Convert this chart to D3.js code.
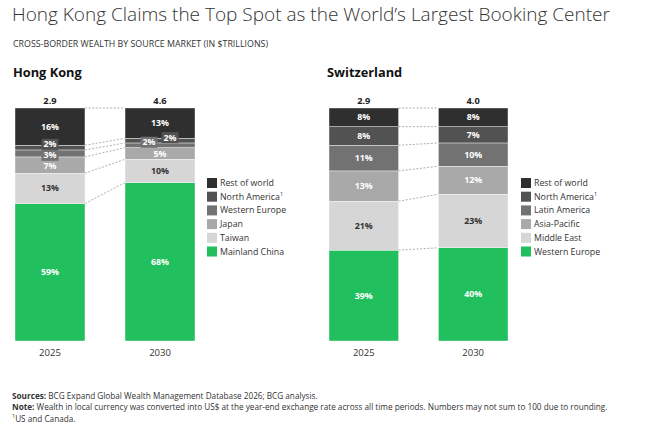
<!DOCTYPE html>
<html><head><meta charset="utf-8">
<script src="https://cdn.jsdelivr.net/npm/d3@7"></script>
<style>
body{margin:0;background:#fff;}
text{font-family:"Open Sans",sans-serif;}
</style></head>
<body><svg id="c" width="646" height="425"></svg>
<script>
// ---- data ----
const years = ["2025", "2030"];
const hkTotals = ["2.9", "4.6"];
const hkCategories = ["Mainland China", "Taiwan", "Japan", "Western Europe", "North America", "Rest of world"];
const hk2025 = [59, 13, 7, 3, 2, 16];
const hk2030 = [68, 10, 5, 2, 2, 13];
const chTotals = ["2.9", "4.0"];
const chCategories = ["Western Europe", "Middle East", "Asia-Pacific", "Latin America", "North America", "Rest of world"];
const ch2025 = [39, 21, 13, 11, 8, 8];
const ch2030 = [40, 23, 12, 10, 7, 8];
const footnoteCategory = "North America";

// ---- styles ----
const palette = ["#21bf5e", "#d6d6d6", "#a9a9a9", "#727272", "#525252", "#2f2f2f"];
const svg = d3.select("#c");

svg.append("text").attr("x", 12).attr("y", 21).attr("font-size", 19).attr("font-weight", 300)
  .attr("fill", "#333").text("Hong Kong Claims the Top Spot as the World\u2019s Largest Booking Center");
svg.append("text").attr("x", 13).attr("y", 47).attr("font-size", 8.85).attr("fill", "#333")
  .text("CROSS-BORDER WEALTH BY SOURCE MARKET (IN $TRILLIONS)");

function panel(opts) {
  const g = svg.append("g");
  g.append("text").attr("x", opts.titleX).attr("y", 77).attr("font-size", 12.8).attr("font-weight", 700)
    .attr("fill", "#111").text(opts.title);

  const x = d3.scaleBand().domain(years).range(opts.xRange).paddingInner(0.364);
  const y = d3.scaleLinear().domain([0, 100]).range([341, 108]);
  const color = d3.scaleOrdinal().domain(opts.categories).range(palette);

  const rows = years.map((yr, i) => {
    const r = { year: yr };
    opts.categories.forEach((c, j) => r[c] = opts.values[i][j]);
    return r;
  });
  const series = d3.stack().keys(opts.categories)(rows);

  // dashed connectors
  const bounds = years.map((yr, i) => [0].concat(series.map(s => s[i][1])));
  const conn = g.append("g");
  bounds[0].forEach((b, k) => {
    if (k === 0) return;
    conn.append("line")
      .attr("x1", x(years[0]) + x.bandwidth()).attr("y1", y(b))
      .attr("x2", x(years[1])).attr("y2", y(bounds[1][k]))
      .attr("stroke", "#9a9a9a").attr("stroke-width", 0.8).attr("stroke-dasharray", "2,1.6");
  });

  // bars
  series.forEach(s => {
    g.selectAll(null).data(s).enter().append("rect")
      .attr("x", d => x(d.data.year)).attr("width", x.bandwidth())
      .attr("y", d => y(d[1])).attr("height", d => y(d[0]) - y(d[1]))
      .attr("fill", color(s.key)).attr("stroke", "#fff").attr("stroke-width", 0.4);
  });

  // segment labels
  years.forEach((yr, i) => {
    const labs = series.map((s, j) => ({
      key: s.key, v: opts.values[i][j], cy: (y(s[i][0]) + y(s[i][1])) / 2, dx: 0, light: j === 1
    }));
    // stagger consecutive tiny segments horizontally
    for (let j = 1; j < labs.length; j++) {
      if (labs[j].v <= 2 && labs[j - 1].v <= 2 && labs[j - 1].dx === 0) {
        labs[j - 1].dx = -11; labs[j].dx = 10; labs[j - 1].cy -= 3; labs[j].cy -= 3; labs[j].stag = true;
      }
    }
    // vertical relaxation
    for (let it = 0; it < 60; it++) {
      for (let j = 1; j < labs.length; j++) {
        if (labs[j].stag) continue;
        const a = labs[j - 1], b = labs[j];
        const gap = a.cy - b.cy;
        if (gap < 11) { const p = (11 - gap) / 2; a.cy += p; b.cy -= p; }
      }
    }
    const cx = x(yr) + x.bandwidth() / 2;
    labs.forEach(l => {
      const lg = g.append("g").attr("transform", `translate(${cx + l.dx},${l.cy})`);
      const t = lg.append("text").attr("text-anchor", "middle").attr("dy", "0.35em")
        .attr("font-size", 8.8).attr("font-weight", 700)
        .attr("fill", l.light ? "#333" : "#fff").text(l.v + "%");
      const w = t.node().getComputedTextLength() + 4;
      lg.insert("rect", "text").attr("x", -w / 2).attr("y", -5.5).attr("width", w).attr("height", 11)
        .attr("fill", color(l.key));
    });
    // totals and years
    g.append("text").attr("x", cx).attr("y", 104).attr("text-anchor", "middle").attr("font-size", 9.3)
      .attr("font-weight", 700).attr("fill", "#222").text(opts.totals[i]);
    g.append("text").attr("x", cx).attr("y", 356).attr("text-anchor", "middle").attr("font-size", 9.5)
      .attr("fill", "#333").text(yr);
  });

  // legend
  const lgd = g.append("g");
  opts.categories.slice().reverse().forEach((c, k) => {
    const yy = 183 + k * 13.7;
    lgd.append("rect").attr("x", opts.legendX).attr("y", yy - 5).attr("width", 10).attr("height", 10)
      .attr("fill", color(c));
    const t = lgd.append("text").attr("x", opts.legendX + 13).attr("y", yy).attr("dy", "0.35em")
      .attr("font-size", 8.8).attr("fill", "#333").text(c);
    if (c === footnoteCategory) t.append("tspan").attr("font-size", 5.5).attr("dy", "-0.6em").text("1");
  });
}

panel({ title: "Hong Kong", titleX: 13, xRange: [15, 195], categories: hkCategories,
  values: [hk2025, hk2030], totals: hkTotals, legendX: 207 });
panel({ title: "Switzerland", titleX: 327, xRange: [329, 508], categories: chCategories,
  values: [ch2025, ch2030], totals: chTotals, legendX: 521 });

// footer
const f = svg.append("g").attr("font-size", 8.2).attr("fill", "#333");
const s1 = f.append("text").attr("x", 12).attr("y", 399);
s1.append("tspan").attr("font-weight", 700).text("Sources: ");
s1.append("tspan").text("BCG Expand Global Wealth Management Database 2026; BCG analysis.");
const s2 = f.append("text").attr("x", 12).attr("y", 410);
s2.append("tspan").attr("font-weight", 700).text("Note: ");
s2.append("tspan").text("Wealth in local currency was converted into US$ at the year-end exchange rate across all time periods. Numbers may not sum to 100 due to rounding.");
const s3 = f.append("text").attr("x", 12).attr("y", 421);
s3.append("tspan").attr("font-size", 5.5).attr("dy", "-0.5em").text("1");
s3.append("tspan").attr("dy", "0.45em").text("US and Canada.");
</script></body></html>
